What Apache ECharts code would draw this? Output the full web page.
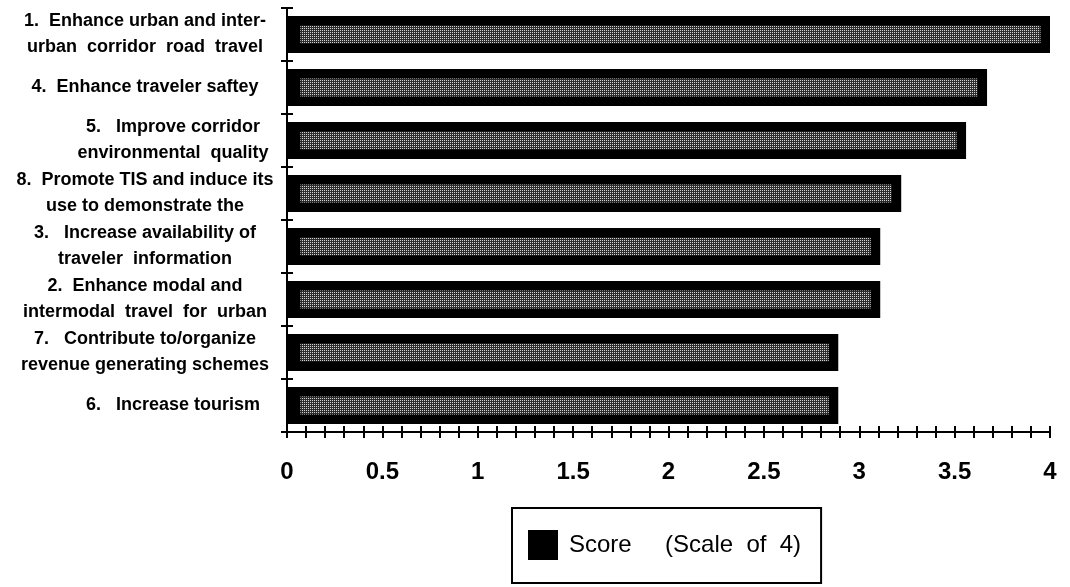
<!DOCTYPE html>
<html><head><meta charset="utf-8">
<script src="https://cdn.jsdelivr.net/npm/echarts@6/dist/echarts.min.js"></script>
<style>html,body{margin:0;padding:0;background:#fff}#c{width:1070px;height:587px}</style>
</head><body><div id="c"></div>
<script>
var categories = [
  "1.  Enhance urban and inter-\nurban  corridor  road  travel",
  "4.  Enhance traveler saftey",
  "5.   Improve corridor\nenvironmental  quality",
  "8.  Promote TIS and induce its\nuse to demonstrate the",
  "3.   Increase availability of\ntraveler  information",
  "2.  Enhance modal and\nintermodal  travel  for  urban",
  "7.   Contribute to/organize\nrevenue generating schemes",
  "6.   Increase tourism"
];
var scores = [4.0, 3.67, 3.56, 3.22, 3.11, 3.11, 2.89, 2.89];
var seriesName = "Score     (Scale  of  4)";
var xMin = 0, xMax = 4, xStep = 0.5;

// visual inset of the dotted core inside each black bar (in axis units)
var insetLeft = 0.07, insetRight = 0.05;
var padVals = scores.map(function () { return insetLeft; });
var coreVals = scores.map(function (v) { return +(v - insetLeft - insetRight).toFixed(3); });

var shiftedLabels = {2: true, 7: true};

var chart = echarts.init(document.getElementById('c'));
var lblFont = '"Liberation Sans", Arial, Helvetica, sans-serif';
chart.setOption({
  animation: false,
  grid: {left: 287, right: 20, top: 8, bottom: 155},
  legend: {
    left: 512, top: 508,
    padding: [22, 20, 23, 16],
    borderColor: '#000', borderWidth: 2,
    itemWidth: 30, itemHeight: 30,
    icon: 'rect',
    textStyle: {fontFamily: lblFont, fontSize: 24, color: '#000', padding: [0, 0, 0, 6]},
    data: [{name: seriesName, itemStyle: {color: '#000', decal: 'none', borderWidth: 0}}]
  },
  xAxis: [{
    type: 'value', min: xMin, max: xMax, interval: xStep,
    axisLine: {show: true, lineStyle: {color: '#000', width: 2}},
    axisTick: {show: true, length: 6, lineStyle: {color: '#000', width: 2}},
    minorTick: {show: true, splitNumber: 5, length: 6, lineStyle: {color: '#000', width: 2}},
    splitLine: {show: false},
    axisLabel: {margin: 28, fontFamily: lblFont, fontWeight: 'bold', fontSize: 24, color: '#000',
      formatter: function (v) { return String(v); }}
  }, {
    type: 'value', min: xMin, max: xMax, interval: xStep, position: 'bottom',
    axisLine: {show: false},
    axisTick: {show: true, inside: true, length: 6, lineStyle: {color: '#000', width: 2}},
    minorTick: {show: true, splitNumber: 5, length: 6, lineStyle: {color: '#000', width: 2}},
    splitLine: {show: false},
    axisLabel: {show: false}
  }],
  yAxis: [{
    type: 'category', data: categories, inverse: true,
    axisLine: {show: true, lineStyle: {color: '#000', width: 2}},
    axisTick: {show: true, length: 6, lineStyle: {color: '#000', width: 2}},
    axisLabel: {
      margin: 142, align: 'center', fontFamily: lblFont, fontWeight: 'bold',
      fontSize: 18, lineHeight: 26, color: '#000',
      formatter: function (v, i) {
        if (!shiftedLabels[i]) return v;
        return v.split('\n').map(function (s) { return '{s|' + s + '}'; }).join('\n');
      },
      rich: {s: {fontFamily: lblFont, fontWeight: 'bold', fontSize: 18, lineHeight: 26,
        color: '#000', padding: [0, 0, 0, 56]}}
    }
  }, {
    type: 'category', data: categories, inverse: true, position: 'left',
    axisLine: {show: false},
    axisTick: {show: true, inside: true, length: 6, lineStyle: {color: '#000', width: 2}},
    axisLabel: {show: false}
  }],
  series: [{
    name: seriesName, type: 'bar', data: scores, barWidth: 37, z: 2,
    itemStyle: {color: '#000'}
  }, {
    name: 'pad', type: 'bar', yAxisIndex: 1, stack: 'core', data: padVals, barWidth: 18, z: 3,
    silent: true, itemStyle: {color: 'rgba(0,0,0,0)'}
  }, {
    name: 'core', type: 'bar', yAxisIndex: 1, stack: 'core', data: coreVals, barWidth: 18, z: 3,
    silent: true,
    itemStyle: {
      color: '#2e2e2e',
      decal: {symbol: 'rect', symbolSize: 1, dashArrayX: [1, 1], dashArrayY: [1, 1],
        color: 'rgba(255,255,255,0.8)', rotation: 0}
    }
  }]
});
</script></body></html>
